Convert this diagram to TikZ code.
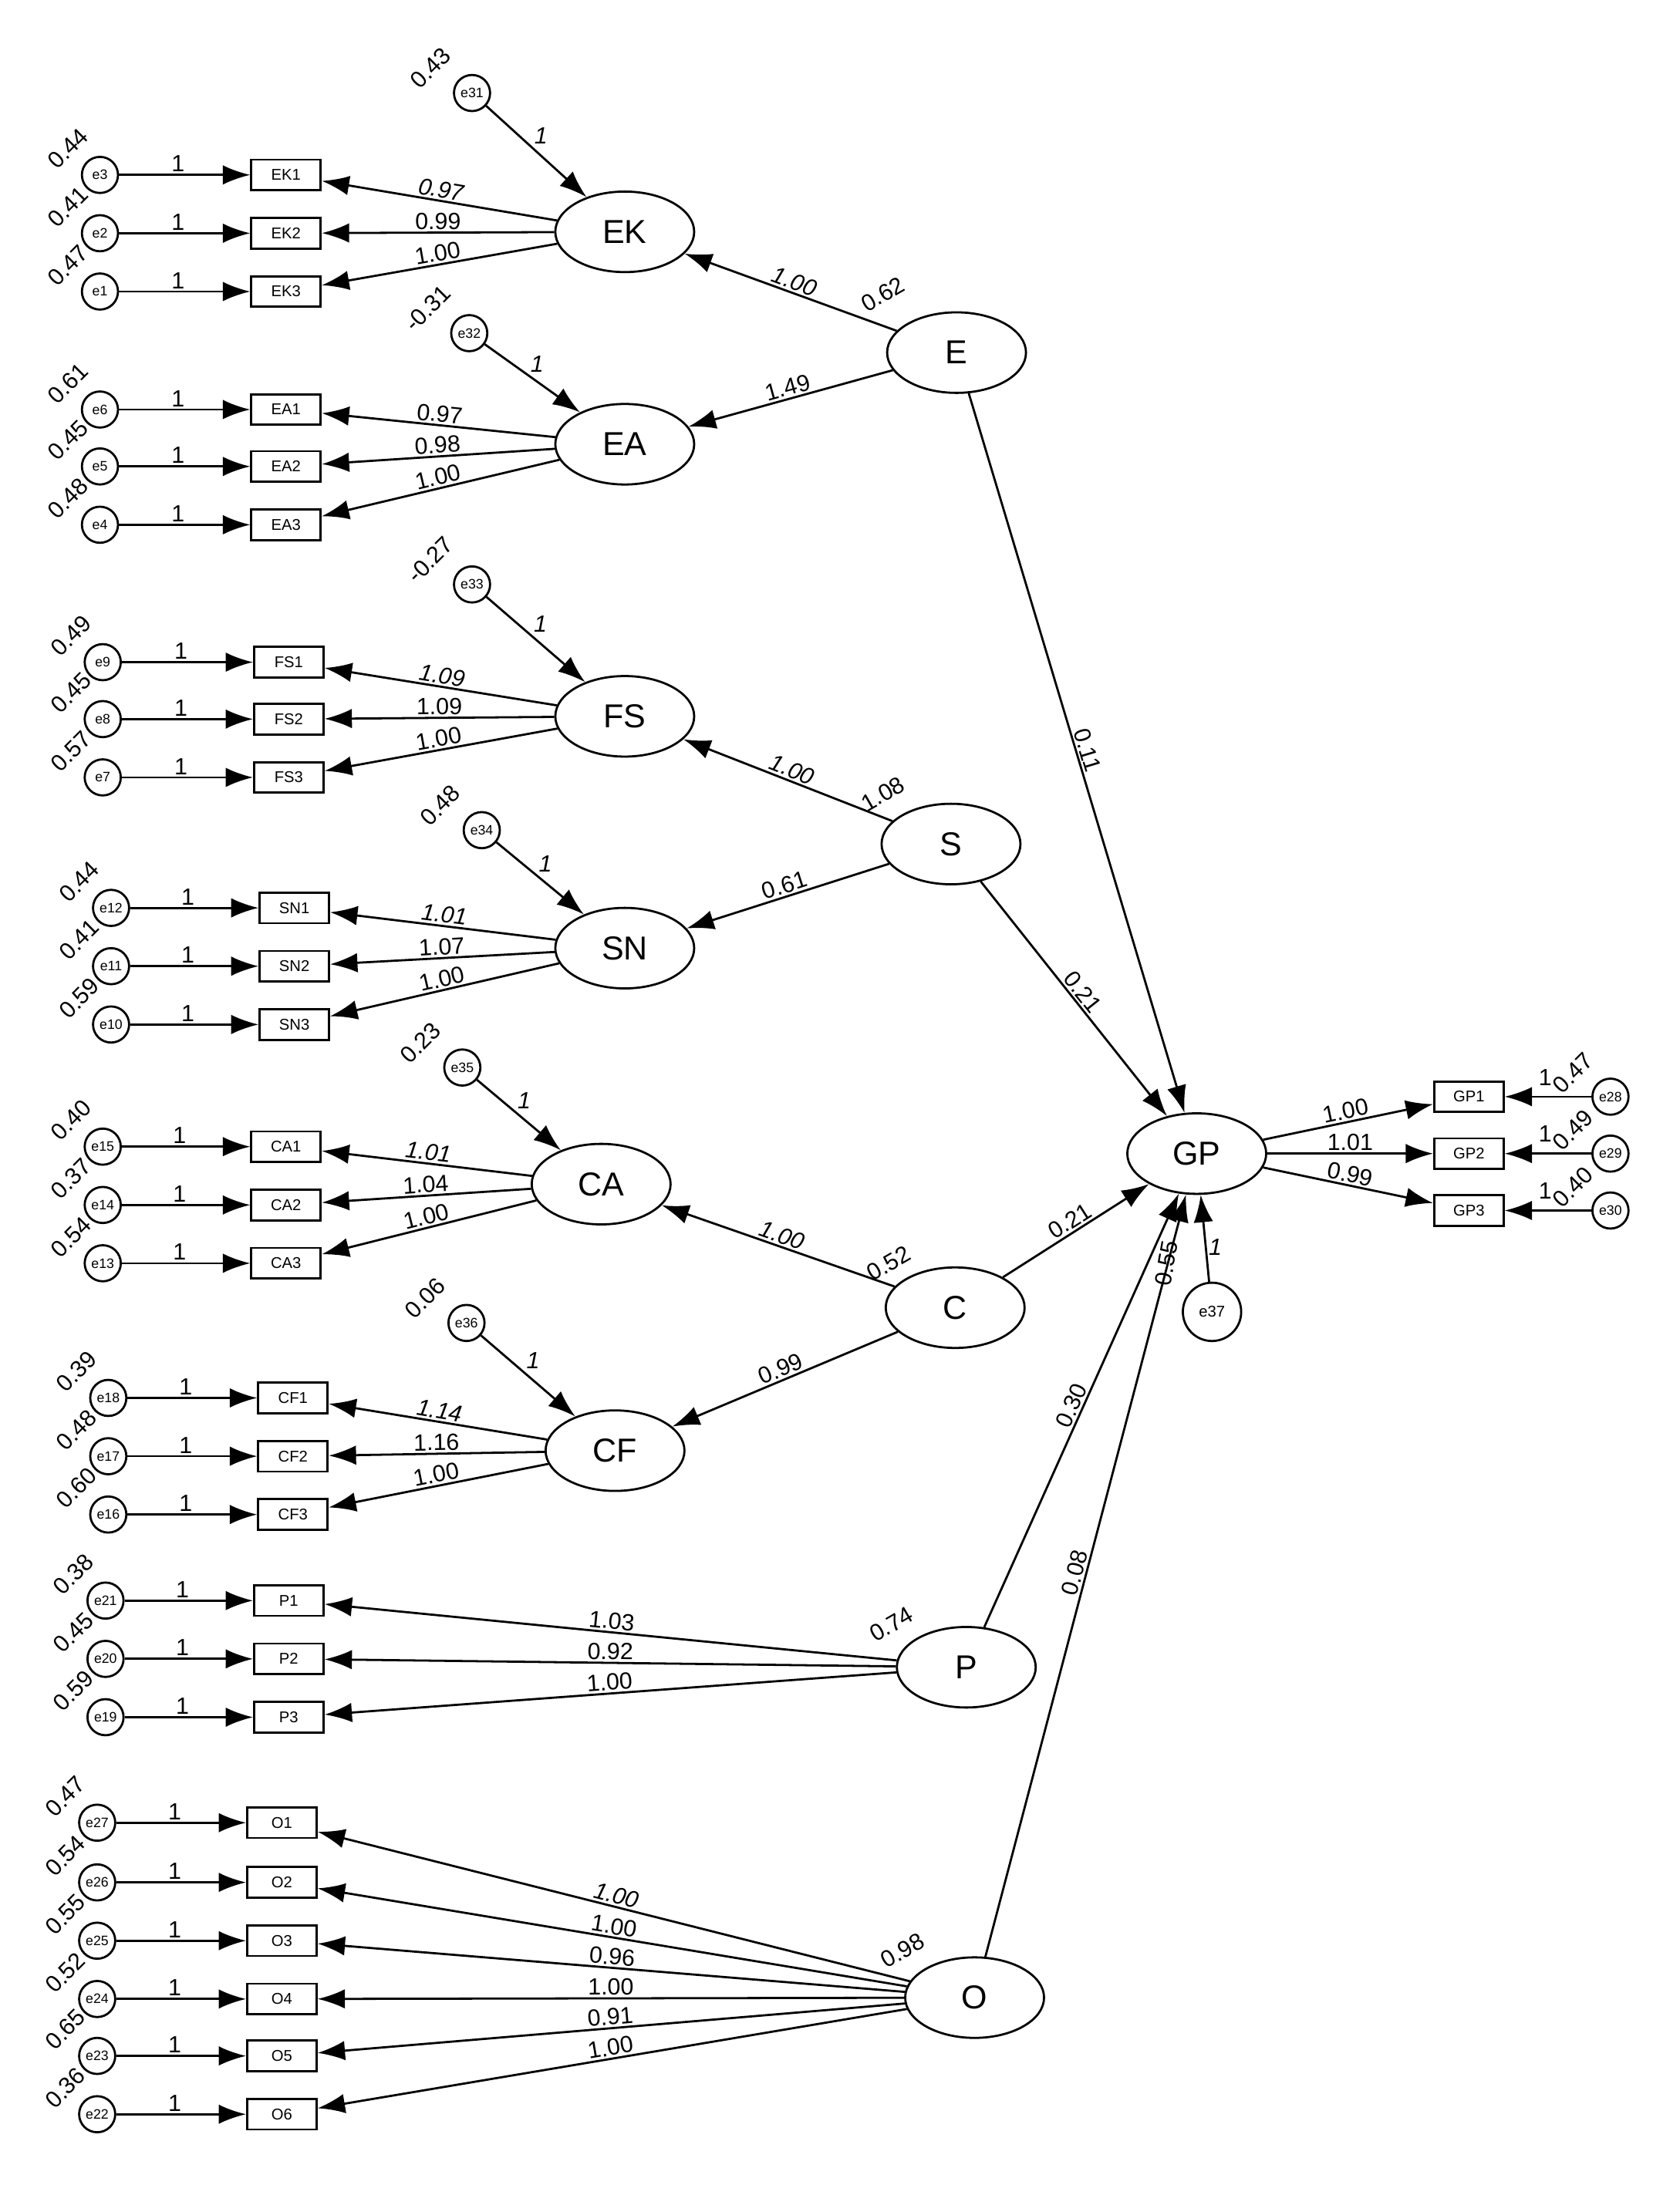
\documentclass[tikz,border=0pt]{standalone}
\usepackage{fontspec}
\setmainfont{Liberation Sans}
\usetikzlibrary{arrows.meta,calc,shapes.geometric}
\begin{document}
\begin{tikzpicture}[x=0.025cm,y=-0.025cm,
 err/.style={circle,draw,line width=1.1pt,minimum size=0.65cm,inner sep=0pt,font=\fontsize{7}{8}\selectfont},
 bigerr/.style={circle,draw,line width=1.1pt,minimum size=1.05cm,inner sep=0pt,font=\fontsize{8}{9}\selectfont},
 box/.style={rectangle,draw,line width=1.1pt,minimum width=1.25cm,minimum height=0.55cm,inner sep=0pt,font=\fontsize{8}{9}\selectfont},
 lat/.style={ellipse,draw,line width=1.1pt,minimum width=2.5cm,minimum height=1.45cm,inner sep=0pt,font=\fontsize{17}{18}\selectfont},
 arr/.style={line width=1.1pt,-{Latex[length=14pt,width=10pt]}},
 lab/.style={font=\fontsize{12}{13}\selectfont,inner sep=1pt},
 ilab/.style={font=\itshape\fontsize{12}{13}\selectfont,inner sep=1pt},
 rot/.style={font=\fontsize{12}{13}\selectfont,rotate=45,inner sep=0pt}]
\useasboundingbox (0,0) rectangle (1210,1574);
% latent
\node[lat] (EK) at (450,167) {EK};
\node[lat] (EA) at (450,320) {EA};
\node[lat] (FS) at (450,516) {FS};
\node[lat] (SN) at (450,683) {SN};
\node[lat] (CA) at (433,853) {CA};
\node[lat] (CF) at (443,1045) {CF};
\node[lat] (E) at (689,254) {E};
\node[lat] (S) at (685,608) {S};
\node[lat] (C) at (688,942) {C};
\node[lat] (P) at (696,1201) {P};
\node[lat] (O) at (702,1439) {O};
\node[lat] (GP) at (862,831) {GP};
\newcommand\indic[8]{%
 \node[err] (#1) at (#4,#3) {#1};
 \node[box] (#2) at (#5,#3) {#2};
 \draw[arr] (#1) -- node[lab,above,pos=0.45]{1} (#2);
 \draw[arr] (#7) -- node[lab,sloped,above,pos=0.5]{#8} (#2);
 \node[rot] at ($(#1)+(-23,-19)$) {#6};}
\indic{e3}{EK1}{126}{72}{206}{0.44}{EK}{\itshape 0.97}
\indic{e2}{EK2}{168}{72}{206}{0.41}{EK}{0.99}
\indic{e1}{EK3}{210}{72}{206}{0.47}{EK}{1.00}
\indic{e6}{EA1}{295}{72}{206}{0.61}{EA}{0.97}
\indic{e5}{EA2}{336}{72}{206}{0.45}{EA}{0.98}
\indic{e4}{EA3}{378}{72}{206}{0.48}{EA}{1.00}
\indic{e9}{FS1}{477}{74}{208}{0.49}{FS}{\itshape 1.09}
\indic{e8}{FS2}{518}{74}{208}{0.45}{FS}{1.09}
\indic{e7}{FS3}{560}{74}{208}{0.57}{FS}{1.00}
\indic{e12}{SN1}{654}{80}{212}{0.44}{SN}{\itshape 1.01}
\indic{e11}{SN2}{696}{80}{212}{0.41}{SN}{1.07}
\indic{e10}{SN3}{738}{80}{212}{0.59}{SN}{1.00}
\indic{e15}{CA1}{826}{74}{206}{0.40}{CA}{\itshape 1.01}
\indic{e14}{CA2}{868}{74}{206}{0.37}{CA}{1.04}
\indic{e13}{CA3}{910}{74}{206}{0.54}{CA}{1.00}
\indic{e18}{CF1}{1007}{78}{211}{0.39}{CF}{\itshape 1.14}
\indic{e17}{CF2}{1049}{78}{211}{0.48}{CF}{1.16}
\indic{e16}{CF3}{1091}{78}{211}{0.60}{CF}{1.00}
\indic{e21}{P1}{1153}{76}{208}{0.38}{P}{1.03}
\indic{e20}{P2}{1195}{76}{208}{0.45}{P}{0.92}
\indic{e19}{P3}{1237}{76}{208}{0.59}{P}{1.00}
\indic{e27}{O1}{1313}{70}{203}{0.47}{O}{\itshape 1.00}
\indic{e26}{O2}{1356}{70}{203}{0.54}{O}{1.00}
\indic{e25}{O3}{1398}{70}{203}{0.55}{O}{0.96}
\indic{e24}{O4}{1440}{70}{203}{0.52}{O}{1.00}
\indic{e23}{O5}{1481}{70}{203}{0.65}{O}{0.91}
\indic{e22}{O6}{1523}{70}{203}{0.36}{O}{1.00}
% latent errors
\newcommand\lerr[4]{%
 \node[err] (#1) at (#2) {#1};
 \draw[arr] (#1) -- node[ilab,above right,pos=0.45]{1} (#3);
 \node[rot] at ($(#1)+(-30,-18)$) {#4};}
\lerr{e31}{340,67}{EK}{0.43}
\lerr{e32}{338,240}{EA}{-0.31}
\lerr{e33}{340,421}{FS}{-0.27}
\lerr{e34}{347,598}{SN}{0.48}
\lerr{e35}{333,769}{CA}{0.23}
\lerr{e36}{336,953}{CF}{0.06}
% structural
\draw[arr] (E) -- node[ilab,sloped,above]{1.00} (EK);
\draw[arr] (E) -- node[lab,sloped,above]{1.49} (EA);
\draw[arr] (E) -- node[lab,sloped,above]{0.11} (GP);
\draw[arr] (S) -- node[ilab,sloped,above]{1.00} (FS);
\draw[arr] (S) -- node[lab,sloped,above]{0.61} (SN);
\draw[arr] (S) -- node[lab,sloped,above]{0.21} (GP);
\draw[arr] (C) -- node[ilab,sloped,above]{1.00} (CA);
\draw[arr] (C) -- node[lab,sloped,above]{0.99} (CF);
\draw[arr] (C) -- node[lab,sloped,above]{0.21} (GP);
\draw[arr] (P) -- node[lab,sloped,above]{0.30} (GP);
\draw[arr] (O) -- node[lab,sloped,above]{0.08} (GP);
\node[lab,rotate=30] at (636,212) {0.62};
\node[lab,rotate=30] at (636,572) {1.08};
\node[lab,rotate=30] at (640,910) {0.52};
\node[lab,rotate=30] at (642,1170) {0.74};
\node[lab,rotate=30] at (650,1405) {0.98};
% GP
\node[bigerr] (e37) at (873,945) {e37};
\draw[arr] (e37) -- node[ilab,right,pos=0.4]{1} (GP);
\node[lab,rotate=80] at (840,910) {0.55};
\foreach \b/\e/\y/\v/\l in {GP1/e28/790/0.47/1.00,GP2/e29/831/0.49/1.01,GP3/e30/872/0.40/0.99}{
 \node[box] (\b) at (1058,\y) {\b};
 \node[err] (\e) at (1160,\y) {\e};
 \draw[arr] (\e) -- (\b);
 \node[lab] at (1113,\y-14) {1};
 \node[rot] at (1133,\y-17) {\v};
 \draw[arr] (GP) -- node[lab,sloped,above,pos=0.5]{\l} (\b);
}
\end{tikzpicture}
\end{document}
